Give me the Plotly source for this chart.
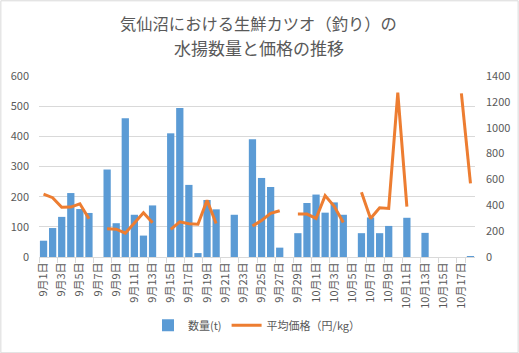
import plotly.graph_objects as go

dates = ["9月1日", "9月2日", "9月3日", "9月4日", "9月5日", "9月6日", "9月7日", "9月8日",
         "9月9日", "9月10日", "9月11日", "9月12日", "9月13日", "9月14日", "9月15日", "9月16日",
         "9月17日", "9月18日", "9月19日", "9月20日", "9月21日", "9月22日", "9月23日", "9月24日",
         "9月25日", "9月26日", "9月27日", "9月28日", "9月29日", "9月30日",
         "10月1日", "10月2日", "10月3日", "10月4日", "10月5日", "10月6日", "10月7日", "10月8日",
         "10月9日", "10月10日", "10月11日", "10月12日", "10月13日", "10月14日", "10月15日",
         "10月16日", "10月17日", "10月18日"]

quantity = [54, 96, 133, 212, 159, 146, None, 290, 112, 460, 140, 71, 171, None, 410, 494,
            239, 13, 189, 158, None, 140, None, 390, 262, 232, 31, None, 79, 179,
            207, 147, 181, 140, None, 79, 131, 79, 103, None, 130, None, 80, None, None,
            None, None, 3]

price = [487, 459, 384, 386, 412, 296, None, 218, 215, 184, 259, 342, 264, None, 213, 272,
         257, 254, 438, 259, None, None, None, 239, 283, 337, 358, None, 332, 332,
         298, 475, 392, 267, None, 500, 298, 381, 376, 1271, 389, None, None, None, None,
         None, 1265, 570]

tick_labels = dates[::2]
title_lines = ["気仙沼における生鮮カツオ（釣り）の", "水揚数量と価格の推移"]

TXT = "#595959"
FONT = "Noto Sans CJK JP"

fig = go.Figure()
fig.add_trace(go.Bar(x=dates, y=quantity, name="数量(t)", marker=dict(color="#5B9BD5", line=dict(width=0)),
                     yaxis="y"))
fig.add_trace(go.Scatter(x=dates, y=price, name="平均価格（円/kg）", mode="lines",
                         line=dict(color="#ED7D31", width=3), yaxis="y2", connectgaps=False))

W, H = 519, 353
L, R, T, B = 38.7, 475.3, 75.7, 256.7
pw, ph = R - L, B - T

def px_x(p):
    return (p - L) / pw

def px_y(p):
    return (B - p) / ph

annotations = [
    dict(text=title_lines[0], xref="paper", yref="paper", x=px_x(259), y=px_y(23),
         xanchor="center", yanchor="middle", showarrow=False, font=dict(size=16.3, color=TXT, family=FONT)),
    dict(text=title_lines[1], xref="paper", yref="paper", x=px_x(259), y=px_y(47),
         xanchor="center", yanchor="middle", showarrow=False, font=dict(size=17, color=TXT, family=FONT)),
]

fig.update_layout(
    width=W, height=H,
    margin=dict(l=L, r=W - R, t=T, b=H - B, autoexpand=False),
    paper_bgcolor="white", plot_bgcolor="white",
    font=dict(family=FONT, color=TXT, size=11),
    annotations=annotations,
    bargap=0.2,
    showlegend=True,
    legend=dict(orientation="h", x=0.5, xanchor="center", y=px_y(325), yanchor="middle",
                font=dict(size=11, color=TXT), itemwidth=30, traceorder="normal"),
    xaxis=dict(type="category", categoryorder="array", categoryarray=dates,
               tickmode="array", tickvals=tick_labels, ticktext=tick_labels,
               tickangle=-90, tickson="boundaries", ticks="outside", ticklen=5,
               tickcolor="#D9D9D9", showline=True, linecolor="#D9D9D9", linewidth=1,
               showgrid=False, tickfont=dict(size=11, color=TXT), range=[-0.5, 47.5]),
    yaxis=dict(range=[0, 600], dtick=100, tick0=0, showgrid=True, gridcolor="#D9D9D9", gridwidth=1,
               zeroline=False, showline=False, ticks="", ticklabelstandoff=9,
               tickfont=dict(size=11, color=TXT)),
    yaxis2=dict(range=[0, 1400], dtick=200, tick0=0, overlaying="y", side="right", showgrid=False,
                zeroline=False, showline=False, ticks="", ticklabelstandoff=10,
                tickfont=dict(size=11, color=TXT)),
    shapes=[dict(type="rect", xref="paper", yref="paper",
                 x0=px_x(0.5), x1=px_x(518.5), y0=px_y(352.5), y1=px_y(0.5),
                 line=dict(color="#D9D9D9", width=1), fillcolor="rgba(0,0,0,0)", layer="below")],
)

fig.write_html("out.html")
